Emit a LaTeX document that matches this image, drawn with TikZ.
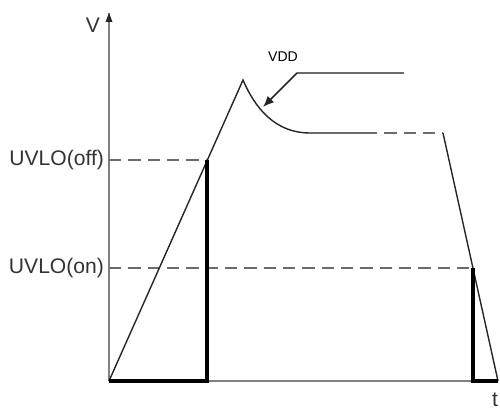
\documentclass[tikz,border=0pt]{standalone}
\usepackage{fontspec}
\setmainfont{Liberation Sans}
\usetikzlibrary{arrows.meta,calc}
\usepackage{tkz-euclide}
\definecolor{AxisClr}{rgb}{0.5,0.5,0.5}
\definecolor{CurveClr}{rgb}{0.15,0.15,0.15}
\definecolor{LevelClr}{rgb}{0.42,0.42,0.42}

\tikzset{
  axisline/.style={line width=1.1pt,color=AxisClr},
  levelline/.style={line width=1.1pt,color=LevelClr,dash pattern=on 7pt off 4pt},
  vddline/.style={line width=0.8pt,color=CurveClr},
  gateline/.style={line width=2.4pt,color=black},
  lbl/.style={font=\fontsize{12}{14}\selectfont,inner sep=1pt,text=black!80},
}

\begin{document}
\begin{tikzpicture}
\useasboundingbox (0,0) rectangle (10,8.2);

\tkzDefPoints{2.18/0.58/O,2.18/7.94/V,9.96/0.58/T}
\tkzDefPoints{4.86/6.60/P,6.20/5.54/C,7.30/5.54/S,8.86/5.54/F}
\tkzDefPoints{2.18/5.00/Yoff,5/5.00/Zoff,2.18/2.84/Yon,5/2.84/Zon}
\tkzDefPoints{8.08/6.74/L1,5.94/6.74/L2,5.26/6.06/L3}

\tkzInterLL(O,P)(Yoff,Zoff) \tkzGetPoint{Aoff}
\tkzInterLL(F,T)(Yon,Zon) \tkzGetPoint{Aon}
\coordinate (Boff) at (Aoff|-O);
\coordinate (Bon) at (Aon|-O);

% axes
\draw[axisline] (O) -- (V);
\draw[axisline,draw=none,fill=black!85] (V) -- ++(-0.07,-0.18) -- ++(0.14,0) -- cycle;
\draw[axisline] (O) -- (T);

% thresholds
\draw[levelline] (Yoff) -- (Aoff);
\draw[levelline] (Yon) -- (Aon);

% VDD
\draw[vddline] (O) -- (P) .. controls (5.10,6.04) and (5.50,5.54) .. (C);
\draw[line width=1.1pt,color=LevelClr] (C) -- (S);
\draw[levelline] (S) -- (F);
\draw[vddline] (F) -- (T);

% leader
\draw[line width=1.1pt,color=LevelClr] (L1) -- (L2);
\draw[line width=0.9pt,color=CurveClr,-{Latex[length=2.2mm,width=1.8mm]}] (L2) -- (L3);

% gate
\draw[gateline] (O) -- (Boff) -- (Aoff);
\draw[gateline] (Aon) -- (Bon) -- (T);

\node[lbl,anchor=east] (off) at (2.12,5.00) {UVLO(off)};
\node[lbl,anchor=east] (on) at (2.12,2.84) {UVLO(on)};
\node[lbl] (v) at (1.86,7.70) {V};
\node[lbl,anchor=south] (t) at (9.90,0.02) {t};
\node[font=\fontsize{8}{9}\selectfont,inner sep=1pt] (vdd) at (5.66,7.06) {VDD};
\end{tikzpicture}
\end{document}
